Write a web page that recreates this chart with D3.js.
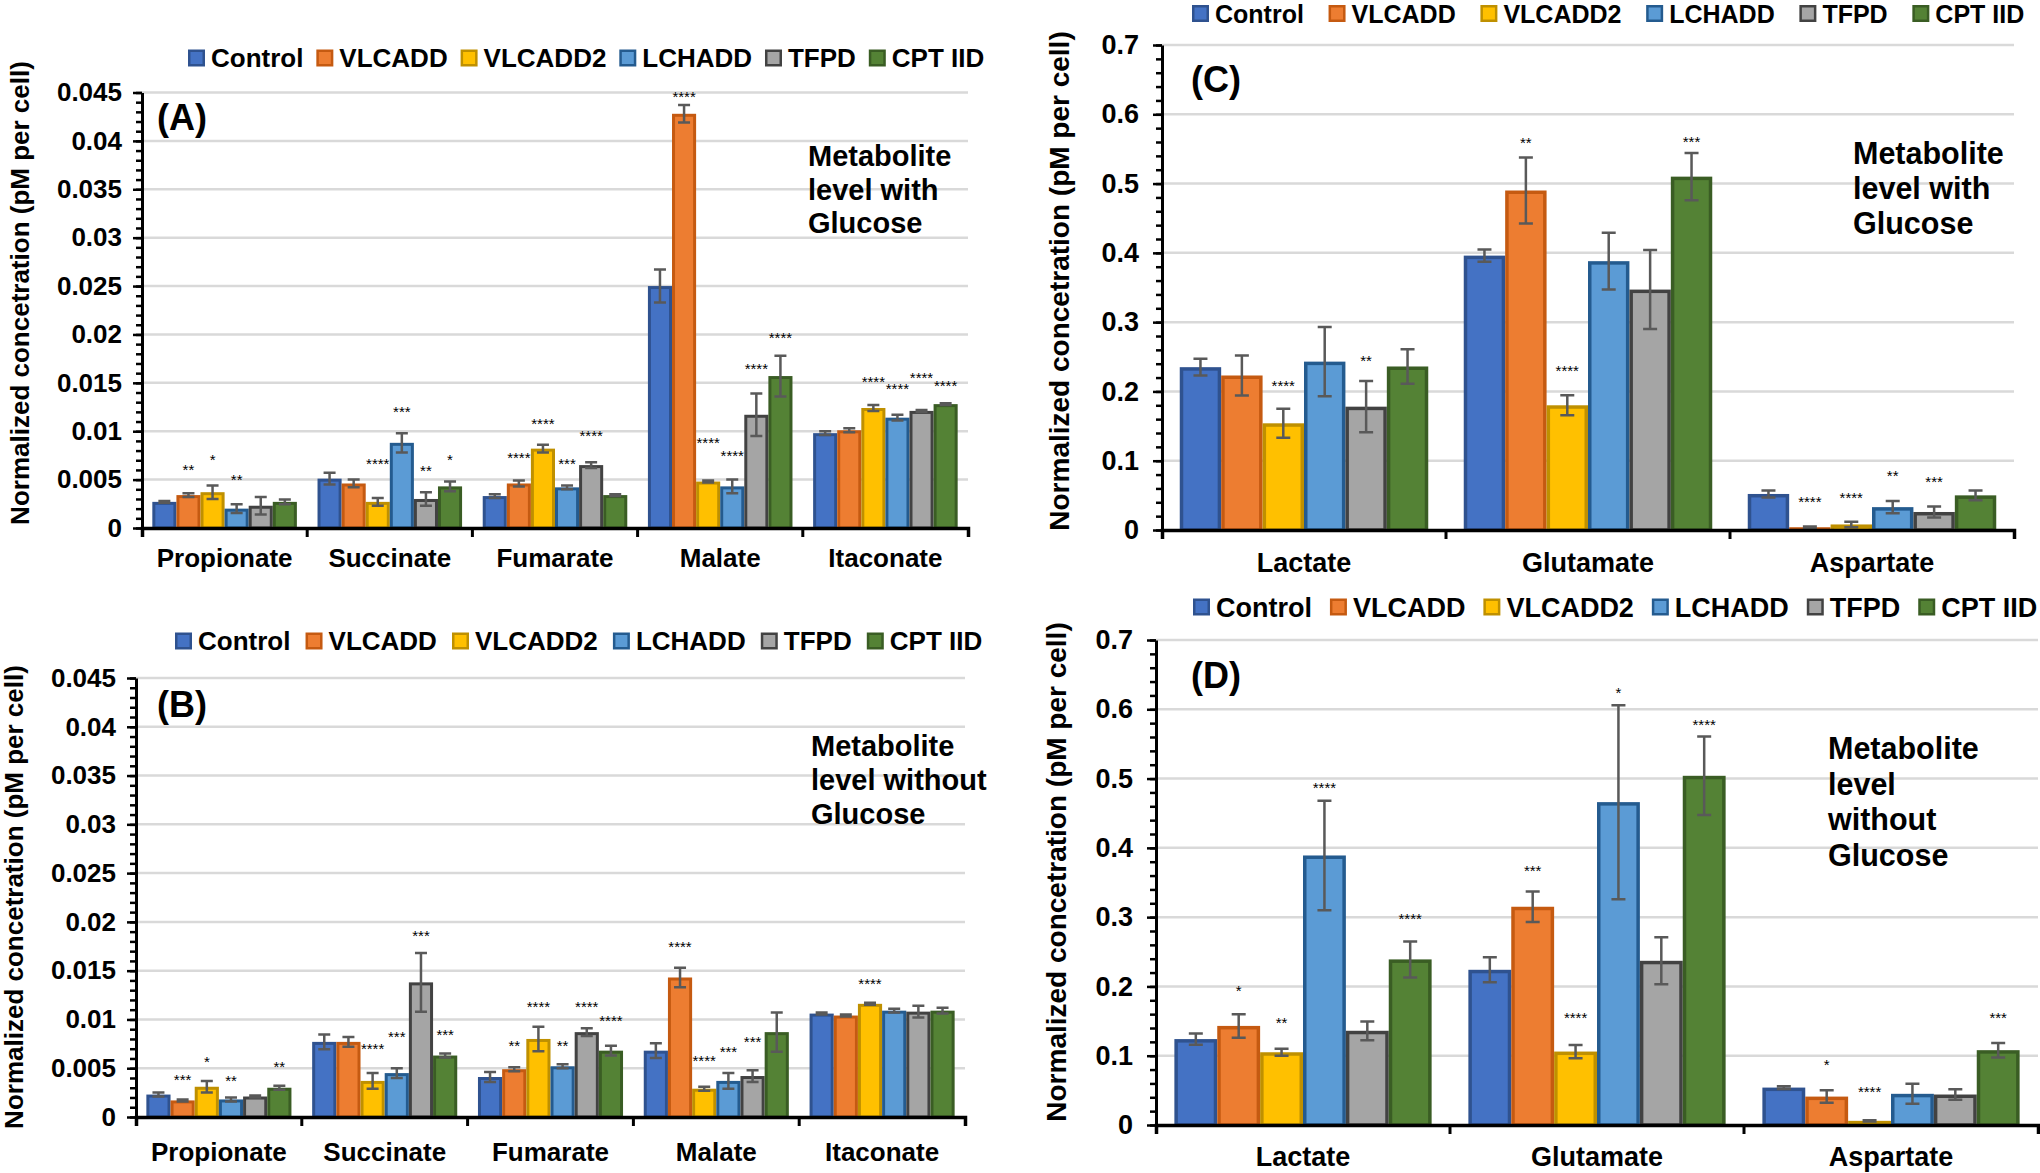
<!DOCTYPE html>
<html><head><meta charset="utf-8">
<script src="https://cdn.jsdelivr.net/npm/d3@7"></script>
<style>
html,body{margin:0;padding:0;background:#fff;}
svg{display:block;}
</style></head><body>
<svg id="chart" width="2040" height="1173"></svg>
<script>
// ---------------- DATA ----------------
const seriesNames = ["Control", "VLCADD", "VLCADD2", "LCHADD", "TFPD", "CPT IID"];
const catsMetab = ["Propionate", "Succinate", "Fumarate", "Malate", "Itaconate"];
const catsAmino = ["Lactate", "Glutamate", "Aspartate"];
const tickLabelsMetab = ["0", "0.005", "0.01", "0.015", "0.02", "0.025", "0.03", "0.035", "0.04", "0.045"];
const tickLabelsAmino = ["0", "0.1", "0.2", "0.3", "0.4", "0.5", "0.6", "0.7"];
const yTitle = "Normalized concetration (pM per cell)";

// Panel A: metabolites with glucose (rows = categories, columns = series)
const meanA = [
  [0.0027, 0.0034, 0.0037, 0.0020, 0.0023, 0.0027],
  [0.0051, 0.0046, 0.0027, 0.0088, 0.0030, 0.0043],
  [0.0033, 0.0046, 0.0082, 0.0042, 0.0065, 0.0034],
  [0.0250, 0.0428, 0.0048, 0.0043, 0.0117, 0.0157],
  [0.0098, 0.0101, 0.0124, 0.0114, 0.0121, 0.0128]
];
const errA = [
  [0.0001, 0.0002, 0.0007, 0.00045, 0.0009, 0.00025],
  [0.0006, 0.0004, 0.0004, 0.0010, 0.0007, 0.0005],
  [0.0002, 0.0003, 0.0004, 0.0002, 0.0003, 0.0001],
  [0.0017, 0.0009, 0.0001, 0.0007, 0.0022, 0.0021],
  [0.0002, 0.0002, 0.0003, 0.0003, 0.0001, 0.0001]
];
const sigA = [
  ["", "**", "*", "**", "", ""],
  ["", "", "****", "***", "**", "*"],
  ["", "****", "****", "***", "****", ""],
  ["", "****", "****", "****", "****", "****"],
  ["", "", "****", "****", "****", "****"]
];
const sigLevelA = [
  [null, 0.0064, 0.0074, 0.0053, null, null],
  [null, null, 0.0070, 0.01235, 0.0062, 0.0074],
  [null, 0.0076, 0.0111, 0.0070, 0.0099, null],
  [null, 0.0449, 0.0091, 0.00775, 0.0168, 0.0200],
  [null, null, 0.0154, 0.0147, 0.0159, 0.0150]
];

// Panel B: metabolites without glucose
const meanB = [
  [0.0023, 0.0017, 0.0031, 0.0018, 0.0021, 0.0030],
  [0.0077, 0.0077, 0.0037, 0.0045, 0.0138, 0.0063],
  [0.0041, 0.0049, 0.0080, 0.0052, 0.0087, 0.0068],
  [0.0068, 0.0143, 0.0029, 0.0037, 0.0042, 0.0087],
  [0.0106, 0.0104, 0.0116, 0.0109, 0.0108, 0.0109]
];
const errB = [
  [0.0002, 0.0001, 0.0006, 0.0002, 0.0001, 0.0002],
  [0.00075, 0.0005, 0.0008, 0.0005, 0.0030, 0.0002],
  [0.0005, 0.0002, 0.00125, 0.0002, 0.0004, 0.0005],
  [0.00075, 0.0010, 0.0002, 0.0008, 0.0006, 0.0020],
  [0.0001, 0.0001, 0.0001, 0.0002, 0.0006, 0.0003]
];
const sigB = [
  ["", "***", "*", "**", "", "**"],
  ["", "", "****", "***", "***", "***"],
  ["", "**", "****", "**", "****", "****"],
  ["", "****", "****", "***", "***", ""],
  ["", "", "****", "", "", ""]
];
const sigLevelB = [
  [null, 0.0042, 0.0060, 0.0041, null, 0.0055],
  [null, null, 0.0073, 0.0086, 0.0189, 0.0088],
  [null, 0.0076, 0.0116, 0.0076, 0.0116, 0.0102],
  [null, 0.0178, 0.0061, 0.0070, 0.0080, null],
  [null, null, 0.0140, null, null, null]
];

// Panel C: lactate / amino acids with glucose
const meanC = [
  [0.235, 0.223, 0.154, 0.243, 0.178, 0.236],
  [0.396, 0.490, 0.180, 0.388, 0.347, 0.510],
  [0.052, 0.004, 0.008, 0.033, 0.026, 0.050]
];
const errC = [
  [0.012, 0.029, 0.021, 0.050, 0.037, 0.025],
  [0.009, 0.0475, 0.0145, 0.041, 0.057, 0.034],
  [0.005, 0.001, 0.004, 0.009, 0.008, 0.007]
];
const sigC = [
  ["", "", "****", "", "**", ""],
  ["", "**", "****", "", "", "***"],
  ["", "****", "****", "**", "***", ""]
];
const sigLevelC = [
  [null, null, 0.213, null, 0.249, null],
  [null, 0.563, 0.234, null, null, 0.565],
  [null, 0.0457, 0.0516, 0.0833, 0.0742, null]
];

// Panel D: lactate / amino acids without glucose
const meanD = [
  [0.124, 0.143, 0.105, 0.389, 0.136, 0.239],
  [0.224, 0.315, 0.106, 0.466, 0.237, 0.504],
  [0.054, 0.041, 0.006, 0.045, 0.044, 0.108]
];
const errD = [
  [0.008, 0.017, 0.005, 0.079, 0.0135, 0.026],
  [0.018, 0.022, 0.0095, 0.140, 0.034, 0.0566],
  [0.002, 0.009, 0.001, 0.0145, 0.0077, 0.0105]
];
const sigD = [
  ["", "*", "**", "****", "", "****"],
  ["", "***", "****", "*", "", "****"],
  ["", "*", "****", "", "", "***"]
];
const sigLevelD = [
  [null, 0.198, 0.152, 0.492, null, 0.302],
  [null, 0.371, 0.159, 0.628, null, 0.582],
  [null, 0.0914, 0.052, null, null, 0.159]
];

// ---------------- STYLE ----------------
const fillColors = ["#4472C4", "#ED7D31", "#FFC000", "#5B9BD5", "#A5A5A5", "#548235"];
const strokeColors = ["#2F528F", "#C55A11", "#BF9000", "#245B8F", "#424242", "#3A5D24"];
const FONT = '"Liberation Sans", Arial, Helvetica, sans-serif';

const svg = d3.select("#chart");

function drawPanel(cfg) {
  const g = svg.append("g");
  const y = d3.scaleLinear().domain([0, cfg.yMax]).range([cfg.y0, cfg.yTop]);
  const x0 = d3.scaleBand().domain(cfg.cats).range([cfg.xL, cfg.xR]).paddingInner(0.125).paddingOuter(0.0625);
  const x1 = d3.scaleBand().domain(seriesNames).range([0, x0.bandwidth()]);
  const majors = cfg.ticks.map(Number);

  // gridlines
  g.append("g").selectAll("line").data(majors.filter(v => v > 0)).join("line")
    .attr("x1", cfg.xL).attr("x2", cfg.xR)
    .attr("y1", d => y(d)).attr("y2", d => y(d))
    .attr("stroke", "#D9D9D9").attr("stroke-width", 2.5);

  const rows = [];
  cfg.cats.forEach((c, ci) => seriesNames.forEach((s, si) => rows.push({
    c, s, si, v: cfg.means[ci][si], e: cfg.errs[ci][si], sig: cfg.sig[ci][si], sigY: cfg.sigY[ci][si]
  })));

  const sw = cfg.barStroke;
  g.append("g").selectAll("rect").data(rows).join("rect")
    .attr("x", d => x0(d.c) + x1(d.s) + sw / 2)
    .attr("y", d => y(d.v) + sw / 2)
    .attr("width", x1.bandwidth() - sw)
    .attr("height", d => Math.max(0.5, y(0) - y(d.v) - sw / 2))
    .attr("fill", d => fillColors[d.si])
    .attr("stroke", d => strokeColors[d.si])
    .attr("stroke-width", sw);

  // error bars
  const cx = d => x0(d.c) + x1(d.s) + x1.bandwidth() / 2;
  const eb = g.append("g").attr("stroke", "#595959").attr("stroke-width", 2.5).attr("fill", "none");
  eb.selectAll("path").data(rows).join("path")
    .attr("d", d => {
      const x = cx(d), yt = y(d.v + d.e), yb = y(d.v - d.e), h = cfg.capW / 2;
      return `M${x - h},${yt}H${x + h}M${x},${yt}V${yb}M${x - h},${yb}H${x + h}`;
    });

  // significance stars
  g.append("g").selectAll("text").data(rows.filter(d => d.sig)).join("text")
    .attr("x", cx)
    .attr("y", d => y(d.sigY) + 8.5)
    .attr("text-anchor", "middle")
    .attr("font-family", FONT).attr("font-size", 15).attr("fill", "#000")
    .text(d => d.sig);

  // y axis (major)
  const yAxis = d3.axisLeft(y).tickValues(majors).tickFormat((d, i) => cfg.ticks[i])
    .tickSize(9).tickSizeOuter(0).tickPadding(cfg.tickPad);
  const ya = g.append("g").attr("transform", `translate(${cfg.xL},0)`).call(yAxis);
  ya.select(".domain").attr("stroke", "#000").attr("stroke-width", 3);
  ya.selectAll(".tick line").attr("stroke", "#000").attr("stroke-width", 2.5);
  ya.selectAll(".tick text").attr("font-family", FONT).attr("font-size", cfg.fs)
    .attr("font-weight", "bold").attr("fill", "#000");
  // y axis (minor)
  const nMinor = Math.round(cfg.yMax / cfg.minor);
  const minors = d3.range(nMinor + 1).map(i => i * cfg.minor);
  const yMinor = d3.axisLeft(y).tickValues(minors).tickFormat("").tickSize(6).tickSizeOuter(0);
  const ym = g.append("g").attr("transform", `translate(${cfg.xL},0)`).call(yMinor);
  ym.select(".domain").remove();
  ym.selectAll(".tick line").attr("stroke", "#000").attr("stroke-width", 2.5);

  // x axis
  const xAxis = d3.axisBottom(x0).tickSize(0).tickSizeOuter(9);
  const xa = g.append("g").attr("transform", `translate(0,${cfg.y0})`).call(xAxis);
  xa.select(".domain").attr("stroke", "#000").attr("stroke-width", 3.5).attr("fill", "none");
  xa.selectAll(".tick text").attr("y", cfg.catY - cfg.y0).attr("dy", 0)
    .attr("font-family", FONT).attr("font-size", cfg.fs).attr("font-weight", "bold").attr("fill", "#000");
  const half = x0.step() * x0.paddingInner() / 2;
  xa.append("g").selectAll("line").data(cfg.cats.slice(1)).join("line")
    .attr("x1", d => x0(d) - half).attr("x2", d => x0(d) - half)
    .attr("y1", 0).attr("y2", 9).attr("stroke", "#000").attr("stroke-width", 3);

  // y title
  g.append("text")
    .attr("transform", `translate(${cfg.title.x},${cfg.title.y}) rotate(-90)`)
    .attr("text-anchor", "middle").attr("dominant-baseline", "central")
    .attr("font-family", FONT).attr("font-size", cfg.title.fs).attr("font-weight", "bold").attr("fill", "#000")
    .text(yTitle);

  // panel label
  g.append("text").attr("x", cfg.label.x).attr("y", cfg.label.y)
    .attr("font-family", FONT).attr("font-size", 36).attr("font-weight", "bold").attr("fill", "#000")
    .text(cfg.label.t);

  // annotation
  const at = g.append("text").attr("font-family", FONT).attr("font-size", cfg.annot.fs)
    .attr("font-weight", "bold").attr("fill", "#000");
  at.selectAll("tspan").data(cfg.annot.lines).join("tspan")
    .attr("x", cfg.annot.x).attr("y", (d, i) => cfg.annot.y + i * cfg.annot.lh).text(d => d);

  // legend
  const sq = 17;
  const lfs = cfg.legend.fs || cfg.fs;
  const lg = g.append("g").attr("transform", `translate(0,${cfg.legend.y})`);
  const items = lg.selectAll("g").data(seriesNames).join("g");
  items.append("rect").attr("x", 1.25).attr("y", -sq / 2 + 1.25).attr("width", sq - 2.5).attr("height", sq - 2.5)
    .attr("fill", (d, i) => fillColors[i]).attr("stroke", (d, i) => strokeColors[i]).attr("stroke-width", 2.5);
  items.append("text").attr("x", sq + 6).attr("dy", "0.36em")
    .attr("font-family", FONT).attr("font-size", lfs).attr("font-weight", "bold").attr("fill", "#000")
    .text(d => d);
  const widths = items.nodes().map(n => n.getBBox().width);
  const total = d3.sum(widths);
  const gap = (cfg.legend.xEnd - cfg.legend.x - total) / (seriesNames.length - 1);
  let cur = cfg.legend.x;
  items.attr("transform", (d, i) => { const t = `translate(${cur},0)`; cur += widths[i] + gap; return t; });
}

drawPanel({
  cats: catsMetab, ticks: tickLabelsMetab, yMax: 0.045, minor: 0.001,
  means: meanA, errs: errA, sig: sigA, sigY: sigLevelA,
  xL: 142, xR: 968, y0: 528, yTop: 92.5, catY: 567, fs: 26, tickPad: 11, barStroke: 3, capW: 12,
  title: { x: 20, y: 293, fs: 26 },
  label: { x: 157, y: 130, t: "(A)" },
  annot: { x: 808, y: 166, lh: 33.5, fs: 29, lines: ["Metabolite", "level with", "Glucose"] },
  legend: { x: 188, xEnd: 983, y: 58 }
});
drawPanel({
  cats: catsMetab, ticks: tickLabelsMetab, yMax: 0.045, minor: 0.001,
  means: meanB, errs: errB, sig: sigB, sigY: sigLevelB,
  xL: 136, xR: 965, y0: 1117, yTop: 678, catY: 1161, fs: 26, tickPad: 11, barStroke: 3, capW: 12,
  title: { x: 14, y: 897, fs: 26 },
  label: { x: 157, y: 717, t: "(B)" },
  annot: { x: 811, y: 756, lh: 34, fs: 29, lines: ["Metabolite", "level without", "Glucose"] },
  legend: { x: 175, xEnd: 981, y: 641 }
});
drawPanel({
  cats: catsAmino, ticks: tickLabelsAmino, yMax: 0.7, minor: 0.02,
  means: meanC, errs: errC, sig: sigC, sigY: sigLevelC,
  xL: 1162, xR: 2014, y0: 530, yTop: 45, catY: 572, fs: 27, tickPad: 14, barStroke: 3.5, capW: 14,
  title: { x: 1059, y: 281, fs: 28 },
  label: { x: 1191, y: 92, t: "(C)" },
  annot: { x: 1853, y: 164, lh: 35, fs: 30.5, lines: ["Metabolite", "level with", "Glucose"] },
  legend: { x: 1192, xEnd: 2023, y: 13.5, fs: 25 }
});
drawPanel({
  cats: catsAmino, ticks: tickLabelsAmino, yMax: 0.7, minor: 0.02,
  means: meanD, errs: errD, sig: sigD, sigY: sigLevelD,
  xL: 1156, xR: 2038, y0: 1125, yTop: 640, catY: 1166, fs: 27, tickPad: 14, barStroke: 3.5, capW: 14,
  title: { x: 1056, y: 872, fs: 28 },
  label: { x: 1191, y: 688, t: "(D)" },
  annot: { x: 1828, y: 759, lh: 35.5, fs: 30.5, lines: ["Metabolite", "level", "without", "Glucose"] },
  legend: { x: 1193, xEnd: 2036, y: 607 }
});
</script>
</body></html>
